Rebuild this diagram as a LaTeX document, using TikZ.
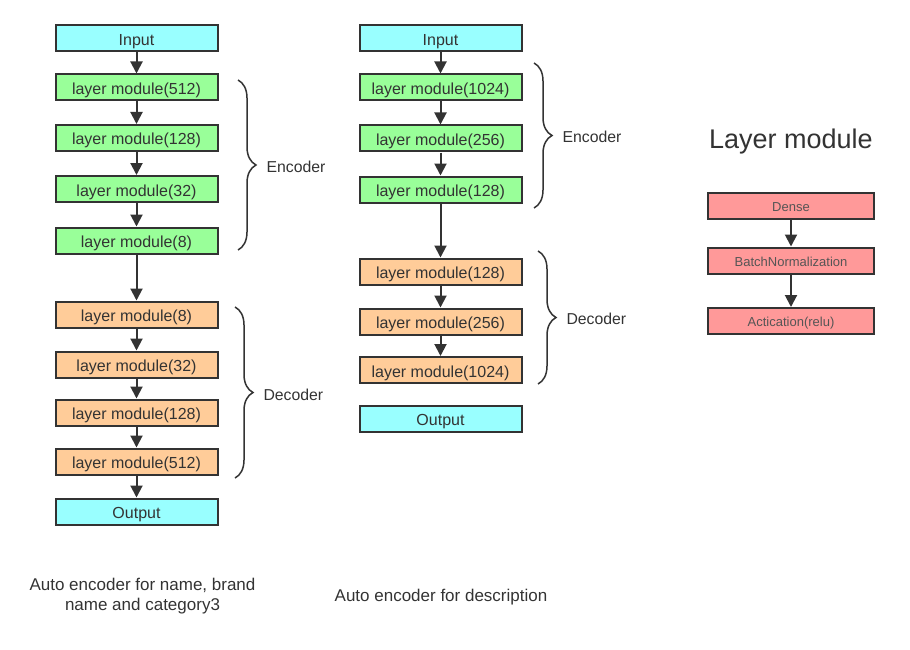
\documentclass[tikz,border=0pt]{standalone}
\usepackage{fontspec}
\setmainfont{Liberation Sans}
\usetikzlibrary{arrows.meta,decorations.pathreplacing}
\definecolor{cyanf}{HTML}{99FFFF}
\definecolor{greenf}{HTML}{99FF99}
\definecolor{orangef}{HTML}{FFCC99}
\definecolor{redf}{HTML}{FF9999}
\definecolor{ink}{HTML}{333333}
\definecolor{soft}{HTML}{555555}
\begin{document}
\begin{tikzpicture}[x=1pt,y=-1pt,
  box/.style={draw=ink, line width=2pt, minimum width=162pt, minimum height=26pt, inner sep=0pt, text=ink, text height=14pt, text depth=0pt, font=\fontsize{16}{18}\selectfont},
  io/.style={box, fill=cyanf},
  enc/.style={box, fill=greenf},
  dec/.style={box, fill=orangef},
  rbox/.style={box, fill=redf, minimum width=166pt, font=\fontsize{13}{15}\selectfont, text=soft, text height=11pt, text depth=0pt},
  arr/.style={draw=ink, line width=2pt, -{Triangle[length=12pt,width=12pt]}},
  brc/.style={draw=ink, line width=1.5pt, decorate, decoration={brace, amplitude=18pt}},
  lbl/.style={anchor=west, text=ink, font=\fontsize{15.8}{18}\selectfont},
  captxt/.style={text=ink, font=\fontsize{17}{20}\selectfont, align=center}
]
\useasboundingbox (0,0) rectangle (910,650);

% left column
\node[io]  (lin)  at (136.5,38.5)  {Input};
\node[enc] (le1)  at (136.5,87.5)  {layer module(512)};
\node[enc] (le2)  at (136.5,138)   {layer module(128)};
\node[enc] (le3)  at (136.5,189)   {layer module(32)};
\node[enc] (le4)  at (136.5,240.5) {layer module(8)};
\node[dec] (ld1)  at (136.5,314.5) {layer module(8)};
\node[dec] (ld2)  at (136.5,364.5) {layer module(32)};
\node[dec] (ld3)  at (136.5,412.5) {layer module(128)};
\node[dec] (ld4)  at (136.5,461.5) {layer module(512)};
\node[io]  (lout) at (136.5,511.5) {Output};
\foreach \a/\b in {lin/le1,le1/le2,le2/le3,le3/le4,le4/ld1,ld1/ld2,ld2/ld3,ld3/ld4,ld4/lout}
  \draw[arr] (\a.south) -- (\b.north);

\coordinate (lbe1) at (238,80);  \coordinate (lbe2) at (238,250);
\draw[brc] (lbe1) -- (lbe2);
\node[lbl] (lenc) at (263,167) {Encoder};
\coordinate (lbd1) at (235,307); \coordinate (lbd2) at (235,478);
\draw[brc] (lbd1) -- (lbd2);
\node[lbl] (ldec) at (260,395) {Decoder};

% middle column
\node[io]  (min)  at (440.5,38.5)  {Input};
\node[enc] (me1)  at (440.5,87.5)  {layer module(1024)};
\node[enc] (me2)  at (440.5,138.5) {layer module(256)};
\node[enc] (me3)  at (440.5,189.5) {layer module(128)};
\node[dec] (md1)  at (440.5,271.5) {layer module(128)};
\node[dec] (md2)  at (440.5,321.5) {layer module(256)};
\node[dec] (md3)  at (440.5,370)   {layer module(1024)};
\node[io]  (mout) at (440.5,418.5) {Output};
\foreach \a/\b in {min/me1,me1/me2,me2/me3,me3/md1,md1/md2,md2/md3}
  \draw[arr] (\a.south) -- (\b.north);

\coordinate (mbe1) at (534,63);  \coordinate (mbe2) at (534,208);
\draw[brc] (mbe1) -- (mbe2);
\node[lbl] (menc) at (559,137) {Encoder};
\coordinate (mbd1) at (538,251); \coordinate (mbd2) at (538,384);
\draw[brc] (mbd1) -- (mbd2);
\node[lbl] (mdec) at (563,319) {Decoder};

% right: layer module
\node[text=ink, font=\fontsize{27}{30}\selectfont] (title) at (791,142) {Layer module};
\node[rbox] (dense) at (791,206)   {Dense};
\node[rbox] (bn)    at (791,260.5) {BatchNormalization};
\node[rbox] (act)   at (791,321)   {Actication(relu)};
\draw[arr] (dense.south) -- (bn.north);
\draw[arr] (bn.south) -- (act.north);

% captions
\node[captxt] (cap1) at (142.5,596) {Auto encoder for name, brand\\name and category3};
\node[captxt] (cap2) at (441,597) {Auto encoder for description};
\end{tikzpicture}
\end{document}
